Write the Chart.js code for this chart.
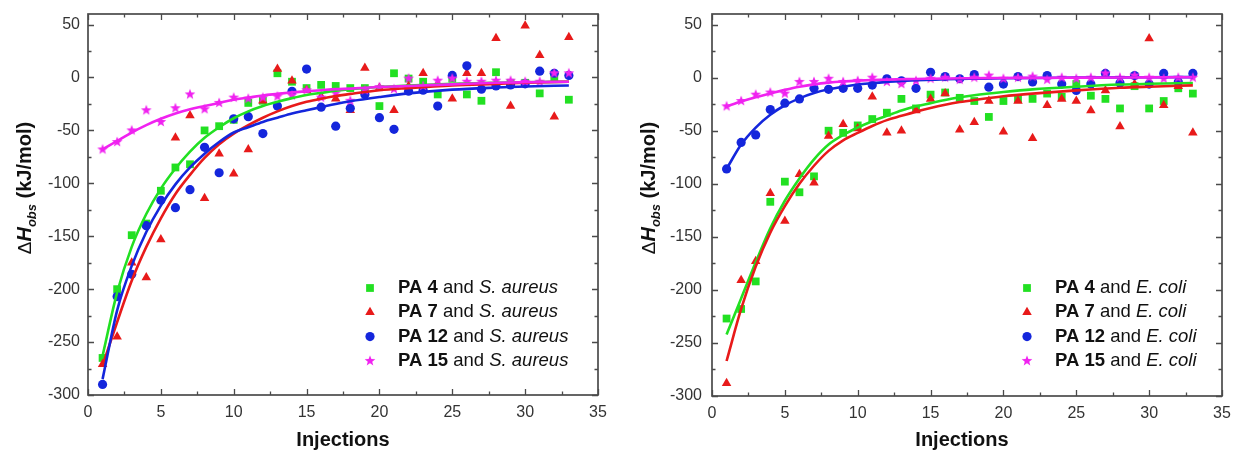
<!DOCTYPE html>
<html lang="en">

<head>
  <meta charset="UTF-8">
  <title>Observed enthalpy per injection</title>
  <style>
    body {
      margin: 0;
      background: #ffffff;
      width: 1233px;
      height: 456px;
      position: relative;
      overflow: hidden;
    }

    .panel {
      position: absolute;
      top: 0;
      height: 456px;
    }

    #left {
      left: 0;
      width: 616px;
    }

    #right {
      left: 616px;
      width: 617px;
    }
  </style>
</head>

<body>
  <div class="panel" id="left"><canvas id="chartLeft" width="616" height="456"></canvas></div>
  <div class="panel" id="right"><canvas id="chartRight" width="617" height="456"></canvas></div>

  <script src="https://cdn.jsdelivr.net/npm/chart.js"></script>
  <script>
    // injection number (x) for the measured points
    const injections = [1, 2, 3, 4, 5, 6, 7, 8, 9, 10, 11, 12, 13, 14, 15, 16, 17, 18, 19, 20, 21, 22, 23, 24, 25, 26, 27, 28, 29, 30, 31, 32, 33];

    // S. aureus panel, measured dH (kJ/mol)
    const pa4Saureus = [-265, -200, -149, -138, -107, -85, -82, -50, -46, -40, -24, -22, 4, -4, -10, -7, -8, -10, -10, -27, 4, -1, -4, -16, -1, -16, -22, 5, -5, -5, -15, 0, -21];
    const pa7Saureus = [-271, -245, -175, -189, -153, -57, -36, -114, -72, -91, -68, -22, 8, -3, -12, -18, -20, -31, 9, -10, -31, -8, 4, -6, -20, 4, 4, 37, -27, 49, 21, -37, 38];
    const pa12Saureus = [-290, -207, -186, -140, -116, -123, -106, -66, -90, -39, -37, -53, -27, -13, 8, -28, -46, -29, -16, -38, -49, -13, -12, -27, 2, 11, -11, -8, -7, -6, 6, 4, 2];
    const pa15Saureus = [-68, -61, -50, -31, -42, -29, -16, -30, -24, -19, -20, -19, -18, -17, -12, -19, -15, -22, -12, -9, -11, -1, -8, -3, -1, -4, -4, -3, -3, -4, -4, 4, 4];

    // E. coli panel, measured dH (kJ/mol)
    const pa4Ecoli = [-227, -218, -192, -117, -98, -108, -93, -50, -52, -45, -39, -33, -20, -29, -16, -14, -19, -22, -37, -22, -20, -20, -15, -18, -6, -17, -20, -29, -8, -29, -22, -10, -15];
    const pa7Ecoli = [-288, -191, -173, -109, -135, -91, -99, -55, -44, -48, -18, -52, -50, -31, -20, -15, -49, -42, -22, -51, -22, -57, -26, -20, -22, -31, -12, -46, -6, 37, -26, -8, -52];
    const pa12Ecoli = [-86, -61, -54, -30, -24, -20, -10, -11, -10, -10, -7, -1, -3, -10, 5, 1, -1, 3, -9, -6, 1, -4, 2, -6, -12, -6, 4, -5, 2, -6, 4, -4, 4];
    const pa15Ecoli = [-27, -22, -16, -14, -15, -4, -4, -1, -4, -3, 0, -4, -6, -3, -1, 0, -2, 0, 2, -1, 0, 1, -2, 0, -1, 0, 4, 0, 2, 0, -1, 0, 0];

    // fitted curves at these injections
    const fitX = [1, 2, 3, 4, 5, 6, 7, 8, 9, 10, 11, 12, 13, 14, 15, 16, 17, 18, 20, 22, 25, 28, 30, 33];
    const pa4SaureusFit = [-263, -203, -160, -129, -105, -86, -70, -57, -47, -38.5, -32, -27, -23, -19.5, -16.5, -14.5, -12.5, -11, -9, -7.5, -6, -5, -4.5, -4];
    const pa7SaureusFit = [-272, -231, -192, -160, -133, -110, -92, -76, -63, -53, -45, -38, -32, -27, -23, -20, -17.5, -15.5, -12, -10, -7.5, -6, -5, -4];
    const pa12SaureusFit = [-285, -220, -178, -146, -121, -101, -85, -72, -61, -52, -47, -42, -38, -34, -31, -28, -25, -22.5, -18.5, -15, -11.5, -9.5, -8.5, -7.5];
    const pa15SaureusFit = [-68, -60, -52, -45, -39, -34, -30, -27, -24, -21, -19, -17, -15.5, -14, -13, -12, -11, -10.5, -9, -8, -6.5, -5, -4.5, -4];
    const pa4EcoliFit = [-242, -208, -174, -142, -116, -95, -77, -63, -54, -47, -41, -36, -31, -27, -24, -21, -18.5, -16.5, -13.5, -11, -8.5, -6.5, -5.8, -5];
    const pa7EcoliFit = [-267, -218, -178, -146, -121, -100, -83, -69, -59, -52, -45.5, -40, -36, -32, -28.5, -25.5, -23, -21, -17.5, -15, -12, -9.5, -8.5, -7.3];
    const pa12EcoliFit = [-86, -63, -47, -35, -26, -19.5, -14.5, -11, -8.5, -6.5, -5.2, -4, -3.2, -2.5, -2, -1.5, -1.2, -1, -0.6, -0.3, 0, 0.3, 0.4, 0.5];
    const pa15EcoliFit = [-27, -22.5, -18.5, -15, -11.5, -8.5, -6.3, -4.7, -3.6, -2.8, -2.2, -1.8, -1.5, -1.2, -1, -0.8, -0.6, -0.5, -0.3, -0.2, 0, 0.2, 0.3, 0.4];

    // axes
    const xTicks = [0, 5, 10, 15, 20, 25, 30, 35];
    const yTicks = [-300, -250, -200, -150, -100, -50, 0, 50];
    const xTickMarks = [0, 2.5, 5, 7.5, 10, 12.5, 15, 17.5, 20, 22.5, 25, 27.5, 30, 32.5, 35];
    const yTickMarks = [-300, -275, -250, -225, -200, -175, -150, -125, -100, -75, -50, -25, 0, 25, 50];
    const compoundLabels = ['PA 4', 'PA 7', 'PA 12', 'PA 15'];

    const FAMILY = '"Liberation Sans", Arial, Helvetica, sans-serif';
    const GREEN = '#22e022';
    const RED = '#e81a1a';
    const BLUE = '#1426dc';
    const MAGENTA = '#f022f0';

    function makeStar(color, r) {
      const c = document.createElement('canvas');
      const s = Math.ceil(r * 2) + 2;
      c.width = s;
      c.height = s;
      const g = c.getContext('2d');
      g.fillStyle = color;
      g.beginPath();
      for (let i = 0; i < 10; i++) {
        const rad = i % 2 ? r * 0.42 : r;
        const a = -Math.PI / 2 + i * Math.PI / 5;
        g.lineTo(s / 2 + rad * Math.cos(a), s / 2 + rad * Math.sin(a));
      }
      g.closePath();
      g.fill();
      return c;
    }

    const star = makeStar(MAGENTA, 5.6);

    // marker style per compound: green square, red triangle, blue circle, magenta star
    const markers = [
      { color: GREEN, style: 'rect', radius: 5.5 },
      { color: RED, style: 'triangle', radius: 5.5 },
      { color: BLUE, style: 'circle', radius: 4.6 },
      { color: MAGENTA, style: star, radius: 5.5 }
    ];

    function pointSet(ys, m, order) {
      return {
        type: 'scatter',
        data: injections.map((x, i) => ({ x: x, y: ys[i] })),
        pointStyle: m.style,
        pointRadius: m.radius,
        pointHoverRadius: m.radius,
        backgroundColor: m.color,
        borderColor: m.color,
        borderWidth: 0,
        order: order
      };
    }

    function fitSet(ys, color, order) {
      return {
        type: 'line',
        data: fitX.map((x, i) => ({ x: x, y: ys[i] })),
        borderColor: color,
        borderWidth: 2.6,
        pointRadius: 0,
        fill: false,
        cubicInterpolationMode: 'monotone',
        order: order
      };
    }

    function drawRuns(ctx, runs, x, y) {
      runs.forEach(r => {
        ctx.font = r.font;
        ctx.fillText(r.t, x, y + (r.dy || 0));
        x += ctx.measureText(r.t).width;
      });
    }

    function runsWidth(ctx, runs) {
      let w = 0;
      runs.forEach(r => {
        ctx.font = r.font;
        w += ctx.measureText(r.t).width;
      });
      return w;
    }

    function drawMarker(ctx, m, x, y) {
      ctx.fillStyle = m.color;
      ctx.strokeStyle = m.color;
      if (Chart.helpers && Chart.helpers.drawPoint) {
        Chart.helpers.drawPoint(ctx, { pointStyle: m.style, radius: m.radius, rotation: 0, borderWidth: 0 }, x, y);
      } else {
        ctx.beginPath();
        ctx.arc(x, y, m.radius, 0, Math.PI * 2);
        ctx.fill();
      }
    }

    // frame with inward ticks on all sides, axis titles and legend
    const framePlugin = {
      id: 'frame',
      afterDraw(chart, args, opts) {
        const ctx = chart.ctx;
        const a = chart.chartArea;
        const xs = chart.scales.x;
        const ys = chart.scales.y;
        ctx.save();
        ctx.strokeStyle = '#4a4a4a';
        ctx.lineWidth = 1.7;
        ctx.strokeRect(a.left, a.top, a.right - a.left, a.bottom - a.top);
        ctx.lineWidth = 1.3;
        ctx.beginPath();
        xTickMarks.forEach(v => {
          const px = Math.round(xs.getPixelForValue(v)) + 0.5;
          const len = v % 5 === 0 ? 6 : 3.5;
          ctx.moveTo(px, a.bottom);
          ctx.lineTo(px, a.bottom - len);
          ctx.moveTo(px, a.top);
          ctx.lineTo(px, a.top + len);
        });
        yTickMarks.forEach(v => {
          const py = Math.round(ys.getPixelForValue(v)) + 0.5;
          const len = v % 50 === 0 ? 6 : 3.5;
          ctx.moveTo(a.left, py);
          ctx.lineTo(a.left + len, py);
          ctx.moveTo(a.right, py);
          ctx.lineTo(a.right - len, py);
        });
        ctx.stroke();

        // x title
        ctx.fillStyle = '#111';
        ctx.textAlign = 'center';
        ctx.textBaseline = 'middle';
        ctx.font = 'bold 20px ' + FAMILY;
        ctx.fillText('Injections', (a.left + a.right) / 2 + opts.xTitleShift, opts.xTitleY);

        // y title, rotated
        const title = [
          { t: '\u0394', font: '19px ' + FAMILY },
          { t: 'H', font: 'italic bold 20px ' + FAMILY },
          { t: 'obs', font: 'italic bold 13px ' + FAMILY, dy: 5 },
          { t: ' (kJ/mol)', font: 'bold 20px ' + FAMILY }
        ];
        ctx.save();
        ctx.translate(opts.yTitleX, opts.yTitleY);
        ctx.rotate(-Math.PI / 2);
        ctx.textAlign = 'left';
        ctx.textBaseline = 'alphabetic';
        drawRuns(ctx, title, -runsWidth(ctx, title) / 2, 7);
        ctx.restore();

        // legend
        ctx.textAlign = 'left';
        ctx.textBaseline = 'middle';
        compoundLabels.forEach((name, i) => {
          const cy = a.top + opts.legendTop + i * 24.3;
          const mx = a.left + opts.legendLeft;
          drawMarker(ctx, markers[i], mx, cy);
          ctx.fillStyle = '#111';
          drawRuns(ctx, [
            { t: name, font: 'bold 18.5px ' + FAMILY },
            { t: ' and ', font: '18.5px ' + FAMILY },
            { t: opts.species, font: 'italic 18.5px ' + FAMILY }
          ], mx + 28, cy);
        });
        ctx.restore();
      }
    };

    function makeChart(id, sets, fits, layout) {
      const datasets = [
        fitSet(fits[3], MAGENTA, 0),
        fitSet(fits[2], BLUE, 1),
        fitSet(fits[1], RED, 2),
        fitSet(fits[0], GREEN, 3),
        pointSet(sets[3], markers[3], 4),
        pointSet(sets[2], markers[2], 5),
        pointSet(sets[1], markers[1], 6),
        pointSet(sets[0], markers[0], 7)
      ];
      const tickFont = { family: FAMILY, size: 16 };
      return new Chart(document.getElementById(id), {
        type: 'scatter',
        data: { datasets: datasets },
        options: {
          responsive: false,
          animation: false,
          devicePixelRatio: 1,
          layout: { padding: { left: 0, right: layout.padRight, top: 14, bottom: 0 } },
          scales: {
            x: {
              type: 'linear',
              min: 0,
              max: 35,
              afterBuildTicks: s => { s.ticks = xTicks.map(v => ({ value: v })); },
              afterFit: s => {
                s.height = layout.xAxisH;
                s.paddingLeft = 0;
                s.paddingRight = 0;
              },
              grid: { display: false, drawTicks: false },
              border: { display: false },
              ticks: { font: tickFont, color: '#333', padding: 8, maxRotation: 0, autoSkip: false }
            },
            y: {
              type: 'linear',
              min: -300,
              max: 60,
              afterBuildTicks: s => { s.ticks = yTicks.map(v => ({ value: v })); },
              afterFit: s => {
                s.width = layout.yAxisW;
                s.paddingTop = 0;
                s.paddingBottom = 0;
              },
              grid: { display: false, drawTicks: false },
              border: { display: false },
              ticks: { font: tickFont, color: '#333', padding: layout.yPad, autoSkip: false }
            }
          },
          plugins: {
            legend: { display: false },
            tooltip: { enabled: false },
            frame: layout.frame
          }
        },
        plugins: [framePlugin]
      });
    }

    makeChart('chartLeft',
      [pa4Saureus, pa7Saureus, pa12Saureus, pa15Saureus],
      [pa4SaureusFit, pa7SaureusFit, pa12SaureusFit, pa15SaureusFit],
      {
        padRight: 18, xAxisH: 61, yAxisW: 88, yPad: 8,
        frame: { species: 'S. aureus', xTitleShift: 0, xTitleY: 440, yTitleX: 24, yTitleY: 188, legendLeft: 282, legendTop: 274 }
      });

    makeChart('chartRight',
      [pa4Ecoli, pa7Ecoli, pa12Ecoli, pa15Ecoli],
      [pa4EcoliFit, pa7EcoliFit, pa12EcoliFit, pa15EcoliFit],
      {
        padRight: 11, xAxisH: 60, yAxisW: 96, yPad: 10,
        frame: { species: 'E. coli', xTitleShift: -5, xTitleY: 440, yTitleX: 32, yTitleY: 188, legendLeft: 315, legendTop: 274 }
      });
  </script>
</body>

</html>
